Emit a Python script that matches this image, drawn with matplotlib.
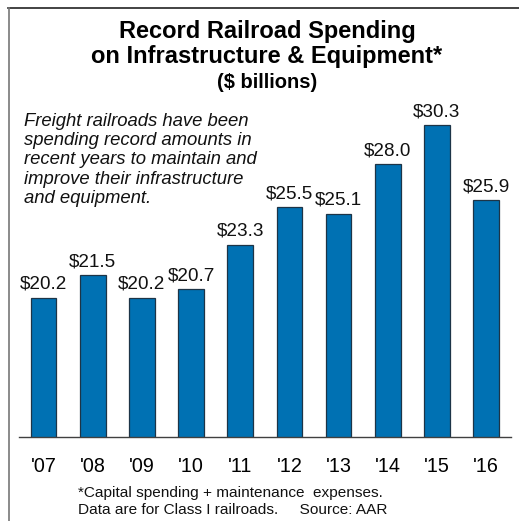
import matplotlib
matplotlib.use("Agg")
import matplotlib.pyplot as plt
from matplotlib.lines import Line2D

plt.rcParams['font.family'] = ['Liberation Sans', 'DejaVu Sans']

years = ["'07", "'08", "'09", "'10", "'11", "'12", "'13", "'14", "'15", "'16"]
spending = [20.2, 21.5, 20.2, 20.7, 23.3, 25.5, 25.1, 28.0, 30.3, 25.9]
value_labels = ["$20.2", "$21.5", "$20.2", "$20.7", "$23.3", "$25.5", "$25.1", "$28.0", "$30.3", "$25.9"]

W, H = 519, 521
fig = plt.figure(figsize=(W / 100, H / 100), dpi=100)

def fx(px):
    return px / W

def fy(py):
    return 1 - py / H

# axes placement
ax_left, ax_right, ax_bottom, ax_top = 19, 510.7, 437, 96
ax = fig.add_axes([fx(ax_left), fy(ax_bottom), (ax_right - ax_left) / W, (ax_bottom - ax_top) / H])

x = list(range(len(years)))
ax.bar(x, spending, width=0.52, color='#0071B3', edgecolor='#1d3447', linewidth=0.9, bottom=0)
ax.set_xlim(-0.5, 9.5)
ax.set_ylim(12.05, 32)

for xi, v, lab in zip(x, spending, value_labels):
    ax.annotate(lab, (xi, v), xytext=(0, 6.5), textcoords='offset points',
                ha='center', va='baseline', fontsize=13.6, color='#111111')

for s in ['top', 'left', 'right']:
    ax.spines[s].set_visible(False)
ax.spines['bottom'].set_color('#404040')
ax.spines['bottom'].set_linewidth(1.0)
ax.set_yticks([])
ax.set_xticks(x)
ax.set_xticklabels(years, fontsize=14.2)
ax.tick_params(axis='x', length=0, pad=14.2)
ax.patch.set_visible(False)

# frame lines (top and left)
fig.add_artist(Line2D([fx(8), 1], [fy(8), fy(8)], color='#222222', linewidth=1.2))
fig.add_artist(Line2D([fx(8.5), fx(8.5)], [fy(8), 0], color='#777777', linewidth=1.2))

# titles
fig.text(fx(267.5), fy(38.3), 'Record Railroad Spending', ha='center', va='baseline',
         fontsize=17.0, fontweight='bold')
fig.text(fx(266.7), fy(63.3), 'on Infrastructure & Equipment*', ha='center', va='baseline',
         fontsize=17.0, fontweight='bold')
fig.text(fx(267.4), fy(88.3), '($ billions)', ha='center', va='baseline',
         fontsize=14.5, fontweight='bold')

# annotation
note_lines = ["Freight railroads have been",
              "spending record amounts in",
              "recent years to maintain and",
              "improve their infrastructure",
              "and equipment."]
for i, line in enumerate(note_lines):
    fig.text(fx(24), fy(125.7 + i * 19.4), line, ha='left', va='baseline',
             fontsize=13.3, fontstyle='italic', color='#111111')

# footnote
fig.text(fx(77.5), fy(496.5), '*Capital spending + maintenance  expenses.', ha='left', va='baseline',
         fontsize=11.1, color='#111111')
fig.text(fx(77.5), fy(514), 'Data are for Class I railroads.     Source: AAR', ha='left', va='baseline',
         fontsize=11.1, color='#111111')

fig.savefig('out.png', dpi=100)
